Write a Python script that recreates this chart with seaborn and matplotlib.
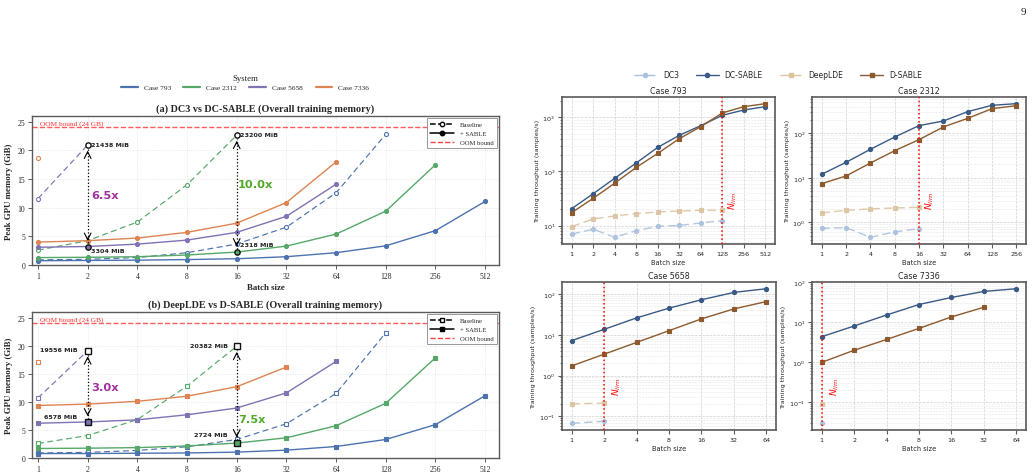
import seaborn as sns
import matplotlib.pyplot as plt
from matplotlib.lines import Line2D
from matplotlib.transforms import blended_transform_factory

# ---------------- memory data (GiB) ----------------
mem_batches = [1, 2, 4, 8, 16, 32, 64, 128, 256, 512]
cases = ["Case 793", "Case 2312", "Case 5658", "Case 7336"]

# (a) DC3 baseline vs DC-SABLE
dc3_793 = [0.9, 1.0, 1.3, 2.15, 3.66, 6.6, 12.6, 22.8]
dc3_2312 = [2.6, 4.25, 7.5, 14.0, 22.66]
dc3_5658 = [11.6, 20.94]
dc3_7336 = [18.65]
dcs_793 = [0.75, 0.8, 0.85, 0.95, 1.1, 1.45, 2.15, 3.35, 6.0, 11.1]
dcs_2312 = [1.3, 1.35, 1.45, 1.75, 2.26, 3.3, 5.4, 9.4, 17.5]
dcs_5658 = [3.1, 3.23, 3.65, 4.35, 5.7, 8.5, 14.1]
dcs_7336 = [4.0, 4.25, 4.7, 5.7, 7.3, 10.9, 18.0]

# (b) DeepLDE baseline vs D-SABLE
dld_793 = [0.9, 1.0, 1.35, 2.0, 3.3, 6.1, 11.5, 22.3]
dld_2312 = [2.6, 4.0, 6.85, 12.8, 19.9]
dld_5658 = [10.7, 19.1]
dld_7336 = [17.05]
ds_793 = [0.8, 0.8, 0.85, 0.9, 1.05, 1.4, 2.05, 3.3, 5.95, 11.1]
ds_2312 = [1.7, 1.75, 1.85, 2.15, 2.66, 3.6, 5.75, 9.75, 17.85]
ds_5658 = [6.2, 6.42, 6.8, 7.7, 8.9, 11.6, 17.2]
ds_7336 = [9.35, 9.6, 10.1, 11.0, 12.7, 16.2]

# ---------------- throughput data (samples/s) ----------------
tp_batches_793 = [1, 2, 4, 8, 16, 32, 64, 128, 256, 512]
tp_dc3_793 = [7.0, 8.6, 6.1, 8.1, 9.7, 10.1, 11.2, 12.4]
tp_dcs_793 = [20.6, 39, 75, 144, 279, 465, 702, 1088, 1365, 1573]
tp_dld_793 = [9.6, 13.3, 15.1, 16.7, 17.9, 18.6, 19.2, 19.2]
tp_ds_793 = [17.4, 32, 61, 119, 216, 403, 673, 1202, 1573, 1786]

tp_batches_2312 = [1, 2, 4, 8, 16, 32, 64, 128, 256]
tp_dc3_2312 = [0.73, 0.76, 0.46, 0.61, 0.72]
tp_dcs_2312 = [12, 22.3, 43.7, 82.7, 149, 189, 307, 426, 464]
tp_dld_2312 = [1.62, 1.86, 2.0, 2.1, 2.17]
tp_ds_2312 = [7.4, 11, 21.5, 40.7, 72, 139, 217, 358, 418]

tp_batches_5658 = [1, 2, 4, 8, 16, 32, 64]
tp_dc3_5658 = [0.068, 0.076]
tp_dcs_5658 = [7.2, 13.6, 25.9, 44.9, 72, 109, 134]
tp_dld_5658 = [0.204, 0.212]
tp_ds_5658 = [1.73, 3.35, 6.5, 12.6, 24.5, 43, 65]

tp_batches_7336 = [1, 2, 4, 8, 16, 32, 64]
tp_dc3_7336 = [0.029]
tp_dcs_7336 = [4.3, 8.0, 15.1, 27.6, 41.5, 58.8, 68.7]
tp_dld_7336 = [0.087]
tp_ds_7336 = [0.98, 1.97, 3.67, 6.96, 13.5, 23.6]

n_lim = {"Case 793": 128, "Case 2312": 16, "Case 5658": 2, "Case 7336": 1}

# ---------------- style ----------------
sns.set_theme(style="ticks")
plt.rcParams["font.family"] = ["DejaVu Sans"]
SERIF = ["Liberation Serif", "DejaVu Serif"]
deep = sns.color_palette("deep")
case_colors = [deep[0], deep[2], deep[4], deep[1]]
c_dc3, c_dcs, c_dld, c_ds = "#a9c1dd", "#3a5a86", "#dcc3a0", "#8c5a2c"
frame_col = "#5a5a5a"


def draw(ax, vals, color, marker, ls, filled, ms, lw, alpha=1.0, z=2):
    sns.lineplot(x=list(range(len(vals))), y=vals, ax=ax, color=color,
                 marker=marker, linestyle=ls, markersize=ms, linewidth=lw,
                 markerfacecolor=color if filled else "white",
                 markeredgecolor=color, markeredgewidth=0.8, alpha=alpha,
                 zorder=z)


def frame(ax, lw):
    for sp in ax.spines.values():
        sp.set_visible(True)
        sp.set_linewidth(lw)
        sp.set_color(frame_col)


fig = plt.figure(figsize=(10.36, 4.77), dpi=100)
fig.text(0.988, 0.973, "9", fontsize=8, family=SERIF, ha="center", va="center")

# ---------------- left: memory panels ----------------
ax_a = fig.add_axes([0.0309, 0.4423, 0.4508, 0.3124])
ax_b = fig.add_axes([0.0309, 0.0377, 0.4508, 0.3061])

panels = [
    (ax_a, [dc3_793, dc3_2312, dc3_5658, dc3_7336],
     [dcs_793, dcs_2312, dcs_5658, dcs_7336], "o",
     "(a) DC3 vs DC-SABLE (Overall training memory)"),
    (ax_b, [dld_793, dld_2312, dld_5658, dld_7336],
     [ds_793, ds_2312, ds_5658, ds_7336], "s",
     "(b) DeepLDE vs D-SABLE (Overall training memory)"),
]

for ax, bases, sables, mk, title in panels:
    for b, s, col in zip(bases, sables, case_colors):
        draw(ax, b, col, mk, (0, (5, 3)), False, 2.9, 0.85)
        draw(ax, s, col, mk, "-", True, 2.9, 1.0, z=3)
    ax.axhline(24, color="#ff4040", ls="--", lw=1.0, alpha=0.85, zorder=1)
    ax.text(0.04, 24.25, "OOM bound (24 GB)", color="#ff3030", fontsize=5.3,
            family=SERIF, va="bottom", ha="left")
    ax.set_xlim(-0.12, 9.28)
    ax.set_ylim(0, 26)
    ax.set_xticks(range(len(mem_batches)))
    ax.set_xticklabels(mem_batches)
    ax.set_yticks([0, 5, 10, 15, 20, 25])
    ax.tick_params(labelsize=5.5, length=3, width=0.7, color=frame_col, pad=2)
    for lab in ax.get_xticklabels() + ax.get_yticklabels():
        lab.set_family(SERIF)
    ax.grid(True, ls=":", lw=0.5, color="#dcdcdc")
    ax.set_xlabel("Batch size", family=SERIF, fontsize=6.4, weight="bold",
                  labelpad=2)
    ax.set_ylabel("Peak GPU memory (GiB)", family=SERIF, fontsize=6.4,
                  weight="bold", labelpad=3)
    ax.set_title(title, family=SERIF, fontsize=7.3, weight="bold", pad=4)
    frame(ax, 1.0)
    inner = [
        Line2D([], [], color="black", ls="--", marker=mk, ms=3.2,
               markerfacecolor="white", lw=1.1),
        Line2D([], [], color="black", ls="-", marker=mk, ms=3.2, lw=1.1),
        Line2D([], [], color="#ff4040", ls="--", lw=1.0),
    ]
    leg = ax.legend(inner, ["Baseline", "+ SABLE", "OOM bound"], loc="upper right",
                    prop={"family": SERIF, "size": 4.8}, fancybox=False,
                    edgecolor="#888888", framealpha=1, handlelength=3.6,
                    handletextpad=0.9, borderpad=0.5, labelspacing=0.5,
                    borderaxespad=0.3)
    leg.get_frame().set_linewidth(0.6)


def highlight(ax, pos, val, mk, color, filled):
    sns.lineplot(x=[pos], y=[val], ax=ax, marker=mk, markersize=3.8,
                 color=color, markerfacecolor=color if filled else "white",
                 markeredgecolor="#111111", markeredgewidth=1.0, zorder=6)


def gap_arrow(ax, pos, low, high):
    ax.plot([pos, pos], [low + 0.6, high - 0.6], ls=":", lw=0.9, color="black",
            zorder=5)
    ax.annotate("", xy=(pos, high), xytext=(pos, high - 1.5),
                arrowprops=dict(arrowstyle="->", lw=0.8, color="black",
                                shrinkA=0, shrinkB=4), zorder=5)
    ax.annotate("", xy=(pos, low), xytext=(pos, low + 1.5),
                arrowprops=dict(arrowstyle="->", lw=0.8, color="black",
                                shrinkA=0, shrinkB=4), zorder=5)


note_kw = dict(fontsize=4.6, weight="bold", color="#222222", va="center")
purple_txt, green_txt = "#a0309c", "#52aa2b"

# (a) annotations
highlight(ax_a, 1, dc3_5658[1], "o", case_colors[2], False)
highlight(ax_a, 1, dcs_5658[1], "o", case_colors[2], True)
highlight(ax_a, 4, dc3_2312[4], "o", case_colors[1], False)
highlight(ax_a, 4, dcs_2312[4], "o", case_colors[1], True)
gap_arrow(ax_a, 1, dcs_5658[1], dc3_5658[1])
gap_arrow(ax_a, 4, dcs_2312[4], dc3_2312[4])
ax_a.text(1.07, 21.0, "21438 MiB", ha="left", **note_kw)
ax_a.text(1.07, 2.5, "3304 MiB", ha="left", **note_kw)
ax_a.text(4.07, 22.85, "23200 MiB", ha="left", **note_kw)
ax_a.text(4.07, 3.66, "2318 MiB", ha="left", **note_kw)
ax_a.text(1.07, 12.2, "6.5x", color=purple_txt, fontsize=8.2, weight="bold",
          va="center", ha="left")
ax_a.text(4.02, 14.2, "10.0x", color=green_txt, fontsize=8.2, weight="bold",
          va="center", ha="left")

# (b) annotations
highlight(ax_b, 1, dld_5658[1], "s", case_colors[2], False)
highlight(ax_b, 1, ds_5658[1], "s", case_colors[2], True)
highlight(ax_b, 4, dld_2312[4], "s", case_colors[1], False)
highlight(ax_b, 4, ds_2312[4], "s", case_colors[1], True)
gap_arrow(ax_b, 1, ds_5658[1], dld_5658[1])
gap_arrow(ax_b, 4, ds_2312[4], dld_2312[4])
ax_b.text(0.8, 19.36, "19556 MiB", ha="right", **note_kw)
ax_b.text(0.8, 7.44, "6578 MiB", ha="right", **note_kw)
ax_b.text(3.82, 20.1, "20382 MiB", ha="right", **note_kw)
ax_b.text(3.82, 4.1, "2724 MiB", ha="right", **note_kw)
ax_b.text(1.07, 12.6, "3.0x", color=purple_txt, fontsize=8.2, weight="bold",
          va="center", ha="left")
ax_b.text(4.03, 7.0, "7.5x", color=green_txt, fontsize=8.2, weight="bold",
          va="center", ha="left")

sys_handles = [Line2D([], [], color=c, lw=1.6) for c in case_colors]
fig.legend(sys_handles, cases, title="System", loc="center",
           bbox_to_anchor=(0.2365, 1 - 83 / 477), ncol=4, frameon=False,
           prop={"family": SERIF, "size": 5.3},
           title_fontproperties={"family": SERIF, "size": 6.3},
           handlelength=2.3, columnspacing=1.7, handletextpad=0.8,
           borderpad=0.2, labelspacing=0.3)

# ---------------- right: throughput panels ----------------
tp_specs = [
    ("Case 793", [0.5425, 0.4864, 0.2056, 0.3082], tp_batches_793,
     tp_dc3_793, tp_dcs_793, tp_dld_793, tp_ds_793),
    ("Case 2312", [0.7838, 0.4864, 0.2066, 0.3082], tp_batches_2312,
     tp_dc3_2312, tp_dcs_2312, tp_dld_2312, tp_ds_2312),
    ("Case 5658", [0.5425, 0.0964, 0.2066, 0.3103], tp_batches_5658,
     tp_dc3_5658, tp_dcs_5658, tp_dld_5658, tp_ds_5658),
    ("Case 7336", [0.7838, 0.0964, 0.2066, 0.3103], tp_batches_7336,
     tp_dc3_7336, tp_dcs_7336, tp_dld_7336, tp_ds_7336),
]

for title, rect, batches, dc3, dcs, dld, ds in tp_specs:
    ax = fig.add_axes(rect)
    draw(ax, dc3, c_dc3, "o", (0, (6, 3)), True, 3.0, 1.0, alpha=0.9)
    draw(ax, dld, c_dld, "s", (0, (6, 3)), True, 3.0, 1.0, alpha=0.9)
    draw(ax, dcs, c_dcs, "o", "-", True, 3.0, 1.0, z=3)
    draw(ax, ds, c_ds, "s", "-", True, 3.0, 1.0, z=3)
    ax.set_yscale("log")
    ax.set_xlim(-0.05 * (len(batches) - 1), 1.05 * (len(batches) - 1))
    nl = batches.index(n_lim[title])
    ax.axvline(nl, color="red", ls=":", lw=1.1, zorder=4)
    trans = blended_transform_factory(ax.transData, ax.transAxes)
    ax.text(nl + 0.2, 0.3, r"$N_{lim}$", transform=trans, rotation=90,
            color="red", fontsize=6.5, va="center", ha="left")
    ax.set_xticks(range(len(batches)))
    ax.set_xticklabels(batches)
    ax.tick_params(which="major", labelsize=4.6, length=3, width=0.8, pad=2,
                   color=frame_col)
    ax.tick_params(which="minor", length=1.8, width=0.6, color=frame_col)
    ax.grid(True, which="major", ls="--", lw=0.5, color="#d0d0d0")
    ax.grid(True, which="minor", ls="--", lw=0.4, color="#e6e6e6")
    ax.set_xlabel("Batch size", fontsize=4.8, labelpad=2)
    ax.set_ylabel("Training throughput (samples/s)", fontsize=4.6, labelpad=2)
    ax.set_title(title, fontsize=5.7, pad=3)
    frame(ax, 1.2)

tp_handles = [
    Line2D([], [], color=c_dc3, ls=(0, (6, 3)), marker="o", ms=3.0, lw=1.0),
    Line2D([], [], color=c_dcs, ls="-", marker="o", ms=3.0, lw=1.0),
    Line2D([], [], color=c_dld, ls=(0, (6, 3)), marker="s", ms=3.0, lw=1.0),
    Line2D([], [], color=c_ds, ls="-", marker="s", ms=3.0, lw=1.0),
]
fig.legend(tp_handles, ["DC3", "DC-SABLE", "DeepLDE", "D-SABLE"], loc="center",
           bbox_to_anchor=(0.751, 1 - 76 / 477), ncol=4, frameon=False,
           fontsize=5.5, handlelength=3.0, columnspacing=2.2)

fig.savefig("out.png", dpi=100)
